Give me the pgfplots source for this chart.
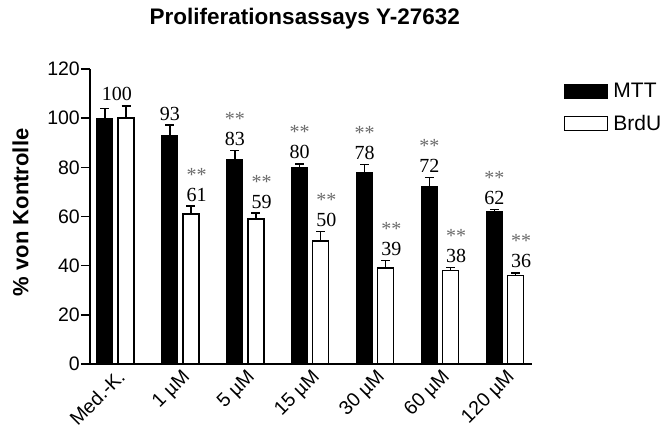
\documentclass[border=0pt]{standalone}
\usepackage{pgfplots}
\usepackage{pgfplotstable}
\pgfplotsset{compat=1.18}
\usepackage{fontspec}
\setmainfont{Liberation Sans}
\newfontfamily\numfont{Liberation Serif}
\definecolor{sig}{gray}{0.42}
\newcommand{\sig}[1]{\textcolor{sig}{**}\\#1}

% MTT and BrdU results: group, mean (% of control), SEM
\pgfplotstableread{
x y e
0 100 4.0
1 93  4.2
2 83  3.9
3 80  1.4
4 78  3.2
5 72  3.9
6 62  0.9
}\mtt
\pgfplotstableread{
x y e
0 100 5.0
1 61  3.3
2 59  2.4
3 50  3.9
4 39  3.0
5 38  1.3
6 36  1.1
}\brdu

\begin{document}
\begin{tikzpicture}
\path[use as bounding box] (0,0) rectangle (667bp,434bp);
\begin{axis}[
  at={(90bp,70bp)}, anchor=south west,
  scale only axis, width=442bp, height=295bp,
  xmin=-0.393, xmax=6.418, ymin=0, ymax=120,
  axis x line*=bottom, axis y line*=left,
  axis line style={line width=1.5bp},
  clip=false,
  xtick={0,...,6},
  xticklabels={Med.-K.,1 µM,5 µM,15 µM,30 µM,60 µM,120 µM},
  x tick style={draw=none},
  xticklabel style={rotate=45, anchor=north east, inner sep=1bp, xshift=5bp, yshift=4bp,
    font=\fontsize{19.5bp}{20bp}\selectfont},
  ytick={0,20,...,120},
  tick align=outside, major tick length=9bp,
  y tick style={line width=1.5bp, black},
  yticklabel style={inner sep=1bp, font=\fontsize{19.5bp}{20bp}\selectfont},
  /pgf/number format/assume math mode=true,
  title={Proliferationsassays Y-27632},
  title style={at={(0.486,1.149)}, anchor=center, font=\bfseries\fontsize{22.5bp}{24bp}\selectfont},
  ylabel={\% von Kontrolle},
  ylabel style={at={(-0.157,0.514)}, anchor=center, font=\bfseries\fontsize{22bp}{24bp}\selectfont},
  legend style={draw=none, fill=none, at={(1.0725,0.955)}, anchor=north west,
    inner sep=0pt, row sep=14bp, font=\fontsize{21bp}{21bp}\selectfont,
    nodes={inner sep=1bp}, /tikz/every odd column/.append style={column sep=4bp}},
  legend cell align=left,
  every node near coord/.append style={align=center, anchor=south, inner sep=0pt,
    yshift=4.5bp, font=\numfont\fontsize{20bp}{20bp}\selectfont, text=black},
  error bars/y dir=plus, error bars/y explicit,
  error bars/error bar style={line width=1.5bp, black},
  error bars/error mark options={rotate=90, mark size=4.5bp, line width=1.5bp, black},
]
% bars are placed side by side around each group position
\addplot[ybar, bar width=16bp, bar shift=0pt, fill=black, draw=black, line width=1bp,
  legend image code/.code={\draw[fill=black, draw=black] (0bp,-7bp) rectangle (43bp,7bp);}]
  table[x expr=\thisrow{x}-0.162, y=y, y error=e] {\mtt};
\addlegendentry{MTT}
\addplot[ybar, bar width=16bp, bar shift=0pt, fill=white, draw=black, line width=1.5bp,
  legend image code/.code={\draw[fill=white, draw=black, line width=1.2bp] (0bp,-7bp) rectangle (43bp,7bp);}]
  table[x expr=\thisrow{x}+0.162, y=y, y error=e] {\brdu};
\addlegendentry{BrdU}
% value labels above the error bars
\addplot[draw=none, mark=none, forget plot, nodes near coords, point meta=explicit symbolic]
  coordinates {
    (0.02,105.0) [100]
    (0.838,97.2) [93]
    (1.838,86.9) [\sig{83}]
    (2.838,81.4) [\sig{80}]
    (3.838,81.2) [\sig{78}]
    (4.838,75.9) [\sig{72}]
    (5.838,62.9) [\sig{62}]
    (1.25,64.3) [\sig{61}]
    (2.25,61.4) [\sig{59}]
    (3.25,53.9) [\sig{50}]
    (4.25,42.0) [\sig{39}]
    (5.25,39.3) [\sig{38}]
    (6.25,37.1) [\sig{36}]
  };
\end{axis}
\end{tikzpicture}
\end{document}
